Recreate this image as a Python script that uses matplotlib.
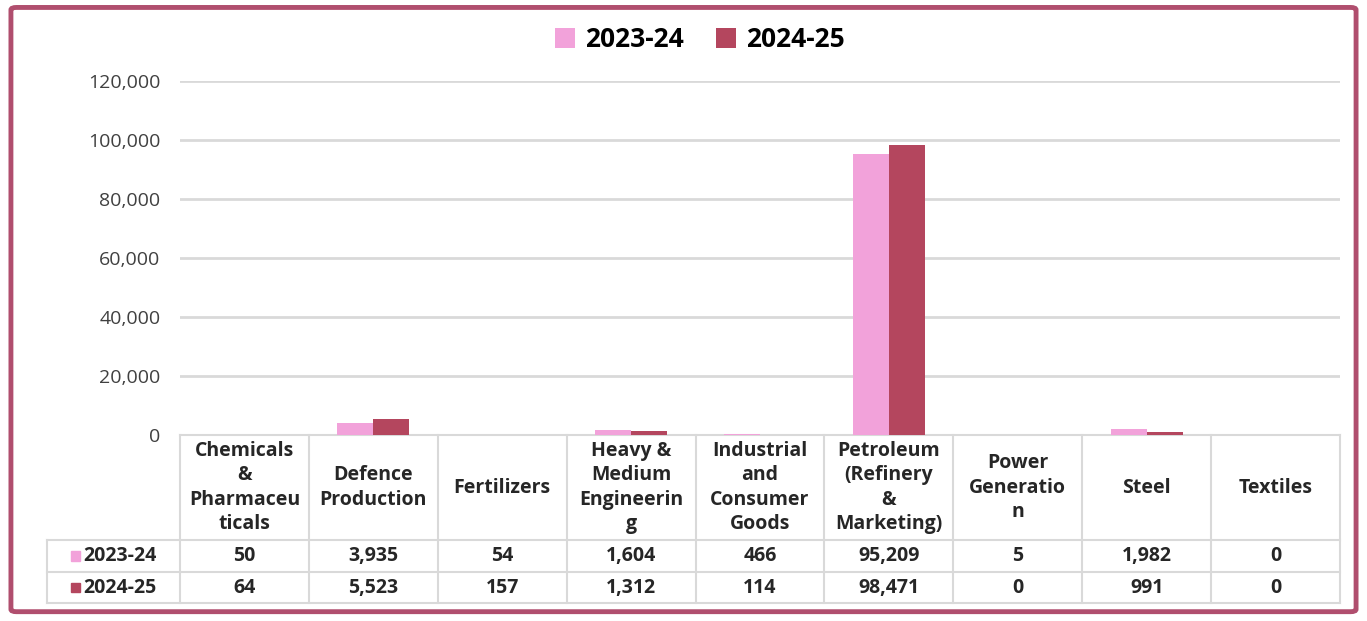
import matplotlib.pyplot as plt
import matplotlib.transforms as mtransforms
from matplotlib.patches import FancyBboxPatch, Rectangle
import numpy as np

plt.rcParams['font.family'] = ['Open Sans', 'DejaVu Sans']

# data
categories = ['Chemicals\n&\nPharmaceu\nticals', 'Defence\nProduction', 'Fertilizers',
              'Heavy &\nMedium\nEngineerin\ng', 'Industrial\nand\nConsumer\nGoods',
              'Petroleum\n(Refinery\n&\nMarketing)', 'Power\nGeneratio\nn', 'Steel', 'Textiles']
series_names = ['2023-24', '2024-25']
values_2023 = [50, 3935, 54, 1604, 466, 95209, 5, 1982, 0]
values_2024 = [64, 5523, 157, 1312, 114, 98471, 0, 991, 0]
colors = ['#F2A2DA', '#B4465E']

fig = plt.figure(figsize=(13.67, 6.21), dpi=100)
ax = fig.add_axes([0.1317, 0.2995, 0.8486, 0.570])

x = np.arange(len(categories))
w = 0.28
ax.bar(x - w / 2, values_2023, width=w, color=colors[0], label=series_names[0], zorder=3)
ax.bar(x + w / 2, values_2024, width=w, color=colors[1], label=series_names[1], zorder=3)

ax.set_xlim(-0.5, len(categories) - 0.5)
ax.set_ylim(0, 120000)
ax.set_yticks(range(0, 120001, 20000))
ax.set_yticklabels([f'{v:,}' for v in range(0, 120001, 20000)], fontsize=14, color='#404040')
ax.tick_params(axis='y', length=0, pad=14)
ax.tick_params(axis='x', length=0, labelbottom=False)
ax.grid(axis='y', color='#d9d9d9', linewidth=2, zorder=0)
for s in ax.spines.values():
    s.set_visible(False)

# data table below the axes
trans = mtransforms.blended_transform_factory(ax.transData, ax.transAxes)
line_kw = dict(color='#d9d9d9', linewidth=1.5, transform=trans, clip_on=False)
y_head = -0.2966
y_r1 = -0.387
y_r2 = -0.4746
x_lab = -1.53
n = len(categories)
txt_kw = dict(transform=trans, va='center', fontsize=14, fontweight='bold', color='#262626')

ax.plot([-0.5, n - 0.5], [0, 0], **line_kw)
ax.plot([x_lab, n - 0.5], [y_head, y_head], **line_kw)
ax.plot([x_lab, n - 0.5], [y_r1, y_r1], **line_kw)
ax.plot([x_lab, n - 0.5], [y_r2, y_r2], **line_kw)
ax.plot([x_lab, x_lab], [y_head, y_r2], **line_kw)
for b in np.arange(-0.5, n, 1.0):
    ax.plot([b, b], [0, y_r2], **line_kw)

for i, cat in enumerate(categories):
    ax.text(i, y_head / 2, cat, ha='center', linespacing=1.3, **txt_kw)
    ax.text(i, (y_head + y_r1) / 2, f'{values_2023[i]:,}', ha='center', **txt_kw)
    ax.text(i, (y_r1 + y_r2) / 2, f'{values_2024[i]:,}', ha='center', **txt_kw)

for k, (yy0, yy1) in enumerate([(y_head, y_r1), (y_r1, y_r2)]):
    yc = (yy0 + yy1) / 2
    ax.text(-1.25, yc, series_names[k], ha='left', **txt_kw)
    ax.add_patch(Rectangle((-1.345, yc - 0.014), 0.07, 0.028, transform=trans,
                           color=colors[k], clip_on=False))

# legend
fig.legend(loc='center', bbox_to_anchor=(0.512, 0.936), ncol=2, frameon=False,
           handlelength=0.75, handleheight=0.75, handletextpad=0.4,
           columnspacing=1.2, prop={'weight': 'bold', 'size': 19})

# outer border
border = FancyBboxPatch((0.008, 0.015), 0.984, 0.973, boxstyle='round,pad=0,rounding_size=0.004',
                        transform=fig.transFigure, fill=False, edgecolor='#B04E6E', linewidth=3.5)
fig.patches.append(border)

fig.savefig('out.png', dpi=100, facecolor='white')
